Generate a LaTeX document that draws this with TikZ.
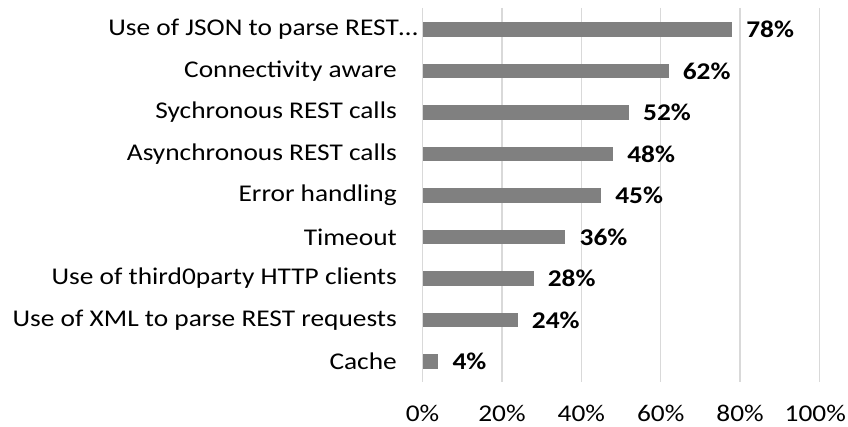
\documentclass[tikz,border=0pt]{standalone}
\usepackage{fontspec}
\setmainfont[FakeStretch=1.14]{Carlito}
\begin{document}
\begin{tikzpicture}[x=1pt,y=1pt,
  grid/.style={draw=black!15, line width=1.5pt},
  bar/.style={fill=black!50, draw=none},
  cat/.style={anchor=east, inner sep=0pt, font=\fontsize{24}{28}\selectfont},
  val/.style={anchor=west, inner sep=0pt, font=\fontsize{24}{28}\selectfont\bfseries},
  tick/.style={anchor=base, inner sep=0pt, text depth=0pt, font=\fontsize{24}{28}\selectfont}]
\useasboundingbox (0,0) rectangle (848,426);
% vertical gridlines every 20%
\foreach \p/\n in {0/t0,20/t20,40/t40,60/t60,80/t80,100/t100}{
  \draw[grid] ({422.5+3.97*\p},418) -- ({422.5+3.97*\p},44);
}
% axis tick labels
\foreach \p/\n in {0/t0,20/t20,40/t40,60/t60,80/t80}{
  \node[tick] (\n) at ({422.5+3.97*\p},4.5) {\p\%};
}
\node[tick, anchor=base east] (t100) at (846,4.5) {100\%};
% bars with category and value labels
\foreach \i/\v/\lab/\nm in {
  0/78/{Use of JSON to parse REST…}/json,
  1/62/{Connectivity aware}/conn,
  2/52/{Sychronous REST calls}/sync,
  3/48/{Asynchronous REST calls}/async,
  4/45/{Error handling}/err,
  5/36/{Timeout}/tout,
  6/28/{Use of third0party HTTP clients}/third,
  7/24/{Use of XML to parse REST requests}/xml,
  8/4/{Cache}/cache}{
  \pgfmathsetmacro\yc{426-29.5-41.5*\i}
  \fill[bar] (422.5,\yc-7.2) rectangle ({422.5+3.97*\v},\yc+7.2);
  \node[val] (v\nm) at ({422.5+3.97*\v+14},\yc) {\v\%};
  \ifnum\i=0
    \node[cat] (c\nm) at (418,\yc) {\lab};
  \else
    \node[cat] (c\nm) at (397,\yc) {\lab};
  \fi
}
\end{tikzpicture}
\end{document}
